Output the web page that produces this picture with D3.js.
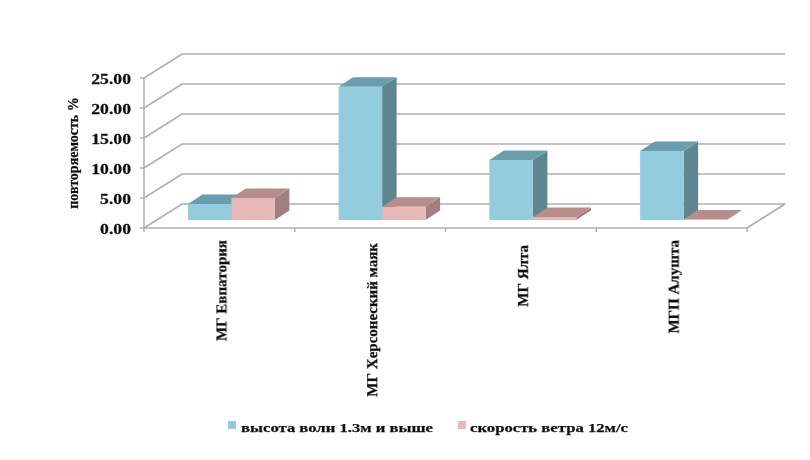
<!DOCTYPE html>
<html><head><meta charset="utf-8">
<script src="https://cdn.jsdelivr.net/npm/d3@7"></script>
<style>html,body{margin:0;padding:0;background:#fff}svg{display:block}text{font-family:"Liberation Serif",serif;font-weight:bold;fill:#111;stroke:#111;stroke-width:0.25}</style>
</head><body><div id="c"></div>
<script>
const categories = ["МГ Евпатория","МГ Херсонеский маяк","МГ Ялта","МГП Алушта"];
const waves = [2.67,22.2,10.0,11.5];
const wind = [3.67,2.2,0.5,0.1];
const seriesNames = ["высота волн 1.3м и выше","скорость ветра 12м/с"];
const yTicks = [0,5,10,15,20,25];

const svg = d3.select("#c").append("svg").attr("width",810).attr("height",460);
const defs = svg.append("defs");
defs.append("filter").attr("id","soft").append("feGaussianBlur").attr("stdDeviation",0.45);
const root = svg.append("g").attr("filter","url(#soft)");

const y = d3.scaleLinear().domain([0,25]).range([228,78]);
const x = d3.scaleBand().domain(categories).range([144,747]);
const wall = {dx:38,dy:-24}, base = {dx:12,dy:-8}, depth = {dx:14.5,dy:-9.5};
const gridC = "#aeaeae";

// walls and gridlines
const grid = root.append("g").attr("fill","none").attr("stroke",gridC).attr("stroke-width",1.5);
yTicks.forEach(t=>{
  const v=y(t);
  grid.append("polyline").attr("points",`${x.range()[0]},${v} ${x.range()[0]+wall.dx},${v+wall.dy} ${x.range()[1]+wall.dx},${v+wall.dy}`);
  grid.append("line").attr("x1",x.range()[0]-4).attr("x2",x.range()[0]).attr("y1",v).attr("y2",v);
});
grid.append("line").attr("x1",x.range()[0]).attr("x2",x.range()[0]).attr("y1",y(25)).attr("y2",y(0));
grid.append("line").attr("x1",x.range()[0]).attr("x2",x.range()[1]).attr("y1",y(0)).attr("y2",y(0));
grid.append("line").attr("x1",x.range()[1]).attr("x2",x.range()[1]+wall.dx).attr("y1",y(0)).attr("y2",y(0)+wall.dy);
[...categories.map(c=>x(c)),x.range()[1]].forEach(p=>{
  grid.append("line").attr("x1",p).attr("x2",p).attr("y1",y(0)).attr("y2",y(0)+4);
});

// bars
const barW = 43.5;
const palettes = [{f:"#93cddd",t:"#6c9dad",s:"#5f8591"},{f:"#e6b9b8",t:"#b58d8b",s:"#a07f7e"}];
const drawBar=(cat,i,val)=>{
  const p=palettes[i];
  const cx=x(cat)+x.bandwidth()/2+base.dx;
  const x0=cx-barW+i*barW, x1=x0+barW;
  const b=y(0)+base.dy, t=b-(y(0)-y(val));
  const g=root.append("g");
  g.append("path").attr("fill",p.s).attr("d",`M${x1},${t}L${x1+depth.dx},${t+depth.dy}L${x1+depth.dx},${b+depth.dy}L${x1},${b}Z`);
  g.append("path").attr("fill",p.t).attr("d",`M${x0},${t}L${x0+depth.dx},${t+depth.dy}L${x1+depth.dx},${t+depth.dy}L${x1},${t}Z`);
  g.append("rect").attr("fill",p.f).attr("x",x0).attr("y",t).attr("width",barW).attr("height",b-t);
};
categories.forEach((c,k)=>{ drawBar(c,0,waves[k]); drawBar(c,1,wind[k]); });

// y tick labels
yTicks.forEach(t=>{
  root.append("text").attr("text-anchor","end").attr("font-size",15.5)
    .attr("transform",`translate(131,${y(t)+5.5}) scale(1.14,1)`).text(d3.format(".2f")(t));
});
root.append("text").attr("text-anchor","middle").attr("font-size",14)
  .attr("transform","translate(78,153) rotate(-90)").text("повторяемость %");

// category labels
const labelTop=[240,243,245,240];
categories.forEach((c,k)=>{
  root.append("text").attr("text-anchor","end").attr("font-size",15)
    .attr("transform",`translate(${x(c)+x.bandwidth()/2+7},${labelTop[k]}) rotate(-90)`).text(c);
});

// legend
const legX=[228,458], legT=[241,470], legW=[192,158];
seriesNames.forEach((n,i)=>{
  root.append("rect").attr("x",legX[i]).attr("y",421).attr("width",8).attr("height",8).attr("fill",palettes[i].f);
  root.append("text").attr("x",legT[i]).attr("y",432).attr("font-size",13.5)
    .attr("textLength",legW[i]).attr("lengthAdjust","spacingAndGlyphs").text(n);
});
</script></body></html>
